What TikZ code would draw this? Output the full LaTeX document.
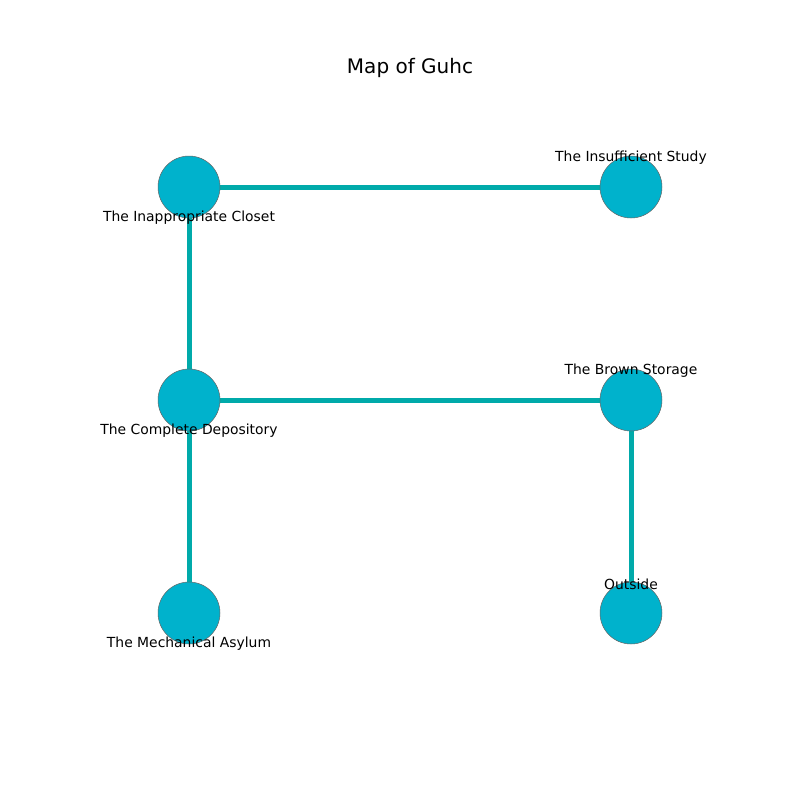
\documentclass[tikz,border=0pt]{standalone}
\usepackage{fontspec}
\setmainfont{DejaVu Sans}
\definecolor{nodefill}{RGB}{0,178,204}
\definecolor{edgecol}{RGB}{0,170,170}
\tikzset{
  room/.style={circle, fill=nodefill, draw=gray!80!black, line width=0.5pt, minimum size=62pt, inner sep=0pt},
  link/.style={draw=edgecol, line width=5pt},
  lbl/.style={font=\fontsize{13.9}{15}\selectfont, inner sep=0pt, anchor=center},
  ttl/.style={font=\fontsize{20}{23}\selectfont, inner sep=0pt, anchor=center}
}
\begin{document}
\begin{tikzpicture}[x=1pt,y=-1pt]
\useasboundingbox[fill=white] (0,0) rectangle (800,800);
\node[ttl] (title) at (410,68) {Map of Guhc};
\coordinate (c1) at (189,187);
\coordinate (c2) at (631,187);
\coordinate (c3) at (189,400);
\coordinate (c4) at (631,400);
\coordinate (c5) at (189,613);
\coordinate (c6) at (631,613);
\draw[link] (c1) -- (c2);
\draw[link] (c1) -- (c3);
\draw[link] (c3) -- (c4);
\draw[link] (c3) -- (c5);
\draw[link] (c4) -- (c6);
\node[room] (n1) at (c1) {};
\node[room] (n2) at (c2) {};
\node[room] (n3) at (c3) {};
\node[room] (n4) at (c4) {};
\node[room] (n5) at (c5) {};
\node[room] (n6) at (c6) {};
\node[lbl] (l1) at (189,218) {The Inappropriate Closet};
\node[lbl] (l2) at (631,158) {The Insufficient Study};
\node[lbl] (l3) at (189,431) {The Complete Depository};
\node[lbl] (l4) at (631,371) {The Brown Storage};
\node[lbl] (l5) at (189,644) {The Mechanical Asylum};
\node[lbl] (l6) at (631,584) {Outside};
\end{tikzpicture}
\end{document}
